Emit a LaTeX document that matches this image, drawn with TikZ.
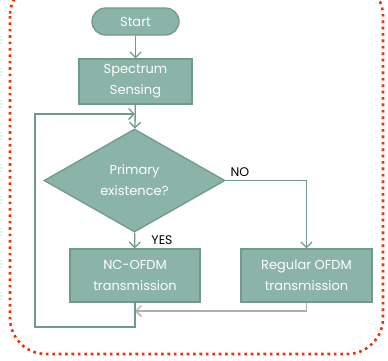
\documentclass[tikz,border=0pt]{standalone}
\usepackage{fontspec}
\setmainfont{Poppins}
\usepackage{tikz}
\usetikzlibrary{shapes.geometric, arrows.meta}

\definecolor{boxfill}{HTML}{8BB4A8}
\definecolor{boxline}{HTML}{6F9A8D}
\definecolor{backline}{HTML}{B5AEAE}
\definecolor{frame}{HTML}{FF2A00}

\begin{document}
\begin{tikzpicture}[x=1pt, y=-1pt]
  \useasboundingbox (0,0) rectangle (388,360);
  \begin{scope} [
    every node/.style={fill=boxfill, draw=boxline, line width=1.3pt, text=white,
      font=\fontsize{13}{21}\selectfont, align=center, inner sep=0pt},
    terminal/.style={rounded corners=13.5pt, minimum width=87pt, minimum height=27pt},
    process/.style={minimum width=113pt, minimum height=45pt},
    decision/.style={diamond, minimum width=181pt, minimum height=103pt},
    output/.style={minimum width=130pt, minimum height=53pt},
    answer/.style={fill=none, draw=none, text=black, font=\fontsize{12.5}{14}\selectfont},
    flow/.style={draw=boxline, line width=1.3pt, -{Straight Barb[length=5.5pt, width=11pt]}},
    back/.style={draw=backline, line width=1.3pt, -{Straight Barb[length=5.5pt, width=11pt]}}]
    %% *** Frame ***
    \draw [frame, line width=2.6pt, dash pattern=on 2.6pt off 3.8pt, rounded corners=36pt]
      (10,-20) rectangle (383,354);
    %% *** Steps ***
    \node [terminal] (start) at (135.5,21.5) {Start};
    \node [process] (sensing) at (135.5,81.5) {Spectrum\\Sensing};
    \node [decision] (primary) at (134.5,180.5) {Primary\\existence?};
    \node [output] (ncofdm) at (135,275.5) {NC-OFDM\\transmission};
    \node [output, minimum width=131pt] (regular) at (306.5,275.5) {Regular OFDM\\transmission};
    \node [answer] (no) at (240,172) {NO};
    \node [answer] (yes) at (162,240) {YES};
    %% *** Connectors ***
    \coordinate (merge) at (135,114);
    \coordinate (loopbr) at (135,327);
    \coordinate (looptl) at (35,114);
    \coordinate (join) at (135,311);
    \draw [flow] (start) -- (sensing);
    \draw [flow] (sensing) -- (primary);
    \draw [flow] (primary) -- (ncofdm);
    \draw [flow] (primary.east) -| (regular.north);
    \draw [back] (regular.south) |- (join);
    \draw [flow] (ncofdm.south) -- (loopbr) -| (looptl) -- (merge);
  \end{scope}
\end{tikzpicture}
\end{document}
